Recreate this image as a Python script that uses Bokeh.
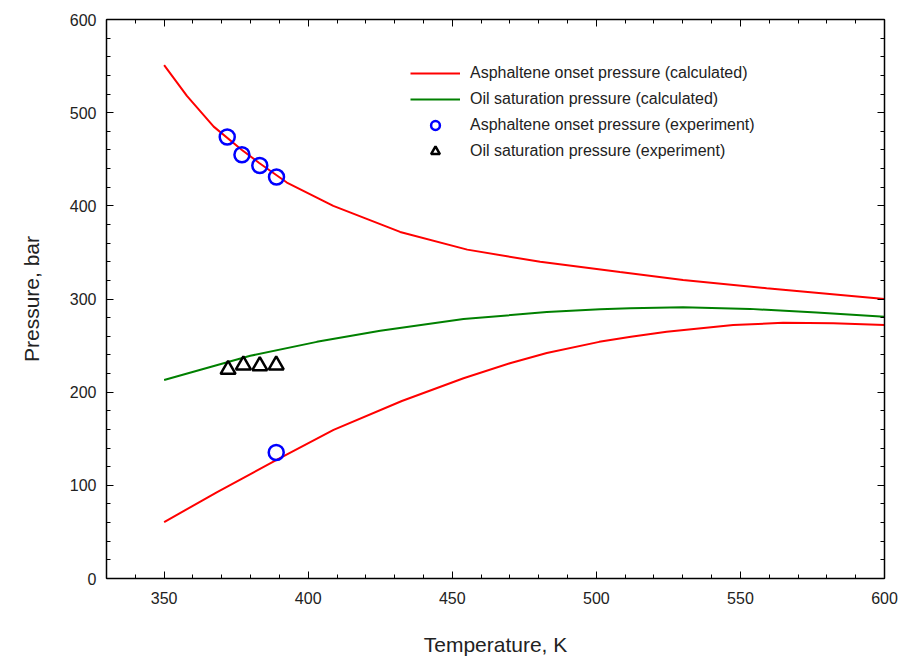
from bokeh.plotting import figure
from bokeh.models import (Legend, LegendItem, LinearAxis, SingleIntervalTicker,
                          CustomJSTickFormatter, Range1d)
from bokeh.embed import file_html
from bokeh.resources import INLINE

# Asphaltene onset pressure (calculated) - upper branch
aop_up_T = [350, 357.9, 367.2, 377, 383, 392.6, 408.7, 431.9, 455.2, 480.5, 508.2, 530.1, 559.1, 600]
aop_up_P = [551, 518, 485, 460, 446, 425, 400, 372, 353, 340, 329, 320.5, 311.5, 300]
# Asphaltene onset pressure (calculated) - lower branch
aop_lo_T = [350, 368.4, 389.2, 408.8, 432.5, 453.9, 470, 482.8, 501, 512, 524.4, 547.5, 564.8, 582.2, 600]
aop_lo_P = [60.5, 92.8, 127.6, 159.5, 190.5, 215, 231, 242, 254, 259.5, 264.8, 272, 274.5, 274, 272]
# Oil saturation pressure (calculated)
sat_T = [350, 379.9, 403, 425, 453.9, 482.8, 501.3, 511.7, 530.1, 553.3, 576.4, 600]
sat_P = [213, 239, 254, 266, 278.5, 286, 288.9, 290, 291.2, 289.4, 285.5, 281]
# Experiments
aop_exp_T = [371.9, 377.0, 383.2, 389.0, 388.9]
aop_exp_P = [473.9, 454.8, 443.3, 430.9, 135.2]
sat_exp_T = [372.2, 377.5, 383.2, 388.9]
sat_exp_P = [224.4, 229.0, 228.3, 229.0]

FONT = "Liberation Sans"

p = figure(width=904, height=668, output_backend="svg", toolbar_location=None,
           x_range=Range1d(330, 600), y_range=Range1d(0, 600),
           x_axis_label="Temperature, K", y_axis_label="Pressure, bar",
           min_border_left=106, min_border_right=20, min_border_top=19,
           min_border_bottom=90)
p.grid.visible = False
p.outline_line_color = None
p.background_fill_color = "white"
p.border_fill_color = "white"

r1 = p.line(aop_up_T, aop_up_P, line_color="#ff0000", line_width=2)
p.line(aop_lo_T, aop_lo_P, line_color="#ff0000", line_width=2)
r2 = p.line(sat_T, sat_P, line_color="#008000", line_width=2)
r3 = p.scatter(aop_exp_T, aop_exp_P, marker="circle", size=15, fill_color=None,
               line_color="#0000ff", line_width=2.5)
r4 = p.scatter(sat_exp_T, sat_exp_P, marker="triangle", size=15, fill_color=None,
               line_color="black", line_width=2.5)

xt = SingleIntervalTicker(interval=50, num_minor_ticks=5)
yt = SingleIntervalTicker(interval=100, num_minor_ticks=5)

def style(ax, ticker):
    ax.ticker = ticker
    ax.axis_line_color = "black"
    ax.axis_line_width = 1.5
    ax.major_tick_in = 7
    ax.major_tick_out = 0
    ax.minor_tick_in = 4
    ax.minor_tick_out = 0
    ax.major_tick_line_color = "black"
    ax.minor_tick_line_color = "black"
    ax.major_label_text_font = FONT
    ax.major_label_text_font_size = "16px"
    ax.major_label_text_color = "#222222"
    ax.axis_label_text_font = FONT
    ax.axis_label_text_font_size = "21px"
    ax.axis_label_text_font_style = "normal"
    ax.axis_label_text_color = "#222222"

style(p.xaxis[0], xt)
style(p.yaxis[0], yt)
p.xaxis[0].major_label_standoff = 13
p.xaxis[0].axis_label_standoff = 26
p.yaxis[0].major_label_standoff = 10
p.yaxis[0].axis_label_standoff = 24

blank = CustomJSTickFormatter(code="return ''")
top = LinearAxis(formatter=blank)
right = LinearAxis(formatter=blank)
style(top, SingleIntervalTicker(interval=50, num_minor_ticks=5))
style(right, SingleIntervalTicker(interval=100, num_minor_ticks=5))
top.major_label_standoff = 0
right.major_label_standoff = 0
p.add_layout(top, "above")
p.add_layout(right, "right")

legend = Legend(items=[
    LegendItem(label="Asphaltene onset pressure (calculated)", renderers=[r1]),
    LegendItem(label="Oil saturation pressure (calculated)", renderers=[r2]),
    LegendItem(label="Asphaltene onset pressure (experiment)", renderers=[r3]),
    LegendItem(label="Oil saturation pressure (experiment)", renderers=[r4]),
], location=(304, 416))
legend.border_line_color = None
legend.background_fill_alpha = 0
legend.label_text_font = FONT
legend.label_text_font_size = "16px"
legend.label_text_color = "#222222"
legend.glyph_width = 50
legend.glyph_height = 22
legend.label_height = 22
legend.spacing = 4
legend.padding = 5
legend.label_standoff = 10
p.add_layout(legend, "center")

open("out.html", "w").write(file_html(p, INLINE))
